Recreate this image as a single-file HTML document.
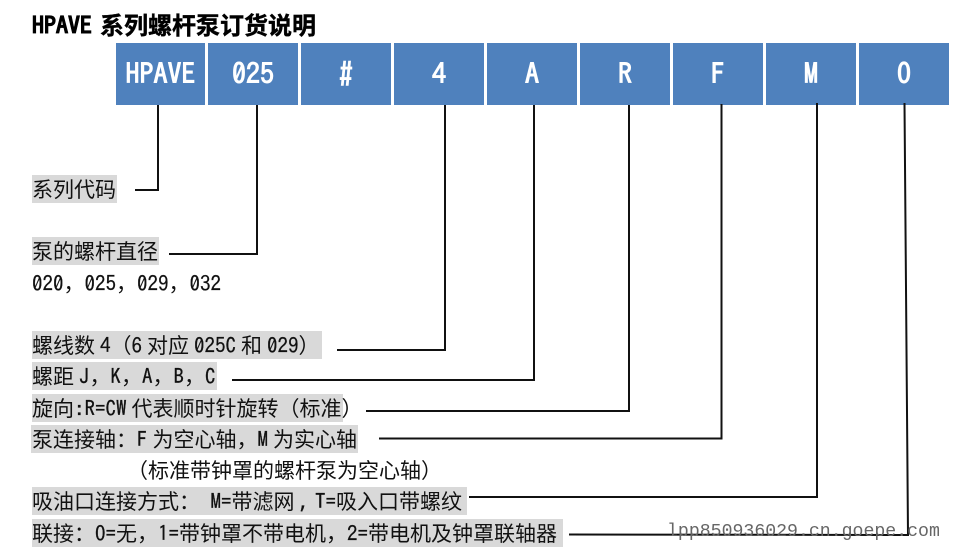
<!DOCTYPE html>
<html><head><meta charset="utf-8"><style>
html,body{margin:0;padding:0;background:#fff}
#p{position:relative;width:973px;height:550px;overflow:hidden;background:#fff;font-family:"WenQuanYi Zen Hei","Noto Sans CJK SC",sans-serif;color:#111}
.b{position:absolute;top:43px;height:62px;background:#4f81bd;color:#fff;font:bold 28px/62px "IPAGothic","Liberation Mono",monospace;text-align:center}
.g{position:absolute;background:#d9d9d9;height:28px}
.t{position:absolute;left:32px;font-size:21px;line-height:28px;height:28px;white-space:pre}
.t i{font-style:normal;font-family:"IPAGothic","Liberation Mono",monospace;word-spacing:-5.5px;-webkit-text-stroke:.25px #111}
.t i.w{word-spacing:0}
svg{position:absolute;left:0;top:0}
</style></head><body><div id="p">
<div class="t" style="top:9px;font-size:24px;font-weight:bold;line-height:30px;height:30px;-webkit-text-stroke:.4px #000;color:#000"><i style="word-spacing:-4px;-webkit-text-stroke:.5px #000">HPAVE </i>系列螺杆泵订货说明</div>
<div class="b" style="left:116px;width:89px">HPAVE</div>
<div class="b" style="left:208px;width:90px">025</div>
<div class="b" style="left:301px;width:90px">#</div>
<div class="b" style="left:394px;width:90px">4</div>
<div class="b" style="left:487px;width:90px">A</div>
<div class="b" style="left:580px;width:90px">R</div>
<div class="b" style="left:673px;width:90px">F</div>
<div class="b" style="left:766px;width:90px">M</div>
<div class="b" style="left:859px;width:90px">O</div>
<div class="g" style="left:32px;top:175px;width:85px"></div>
<div class="g" style="left:32px;top:237px;width:127px"></div>
<div class="g" style="left:32px;top:331px;width:290px"></div>
<div class="g" style="left:32px;top:362px;width:185px"></div>
<div class="g" style="left:32px;top:394px;width:311px"></div>
<div class="g" style="left:31px;top:425px;width:327px"></div>
<div class="g" style="left:32px;top:487px;width:435px"></div>
<div class="g" style="left:32px;top:519px;width:531px"></div>
<div class="t" style="top:175px">系列代码</div>
<div class="t" style="top:237px">泵的螺杆直径</div>
<div class="t" style="top:269px"><i>020</i>，<i>025</i>，<i>029</i>，<i>032</i></div>
<div class="t" style="top:331px">螺线数<i> 4</i>（<i>6 </i>对应<i> 025C </i>和<i> 029</i>）</div>
<div class="t" style="top:362px">螺距<i> J</i>，<i>K</i>，<i>A</i>，<i>B</i>，<i>C</i></div>
<div class="t" style="top:394px">旋向<i>:R=CW </i>代表顺时针旋转（标准）</div>
<div class="t" style="top:425px">泵连接轴：<i>F </i>为空心轴，<i>M </i>为实心轴</div>
<div class="t" style="top:456px;left:127px">（标准带钟罩的螺杆泵为空心轴）</div>
<div class="t" style="top:487px">吸油口连接方式：<i class="w"> M=</i>带滤网<i> , </i><i>T=</i>吸入口带螺纹</div>
<div class="t" style="top:519px">联接：<i>O=</i>无，<i>1=</i>带钟罩不带电机，<i>2=</i>带电机及钟罩联轴器</div>
<svg width="973" height="550" fill="none" stroke="#111" stroke-width="2">
<polyline points="158,105 158,190 135,190"/>
<polyline points="257,105 257,254 169,254"/>
<polyline points="445,105 445,350 337,350"/>
<polyline points="534,105 534,380 232,380"/>
<polyline points="629,105 629,411 366,411"/>
<polyline points="721.5,104 721.5,438.5 379,438.5"/>
<polyline points="817,103 817,497 469,497"/>
<polyline points="904.5,103 908,535 569,534.5"/>
</svg>
<div style="position:absolute;left:667px;top:522px;font:18.2px/20px 'Liberation Mono',monospace;color:#666;white-space:pre">lpp850936029.cn.goepe.com</div>
</div></body></html>
